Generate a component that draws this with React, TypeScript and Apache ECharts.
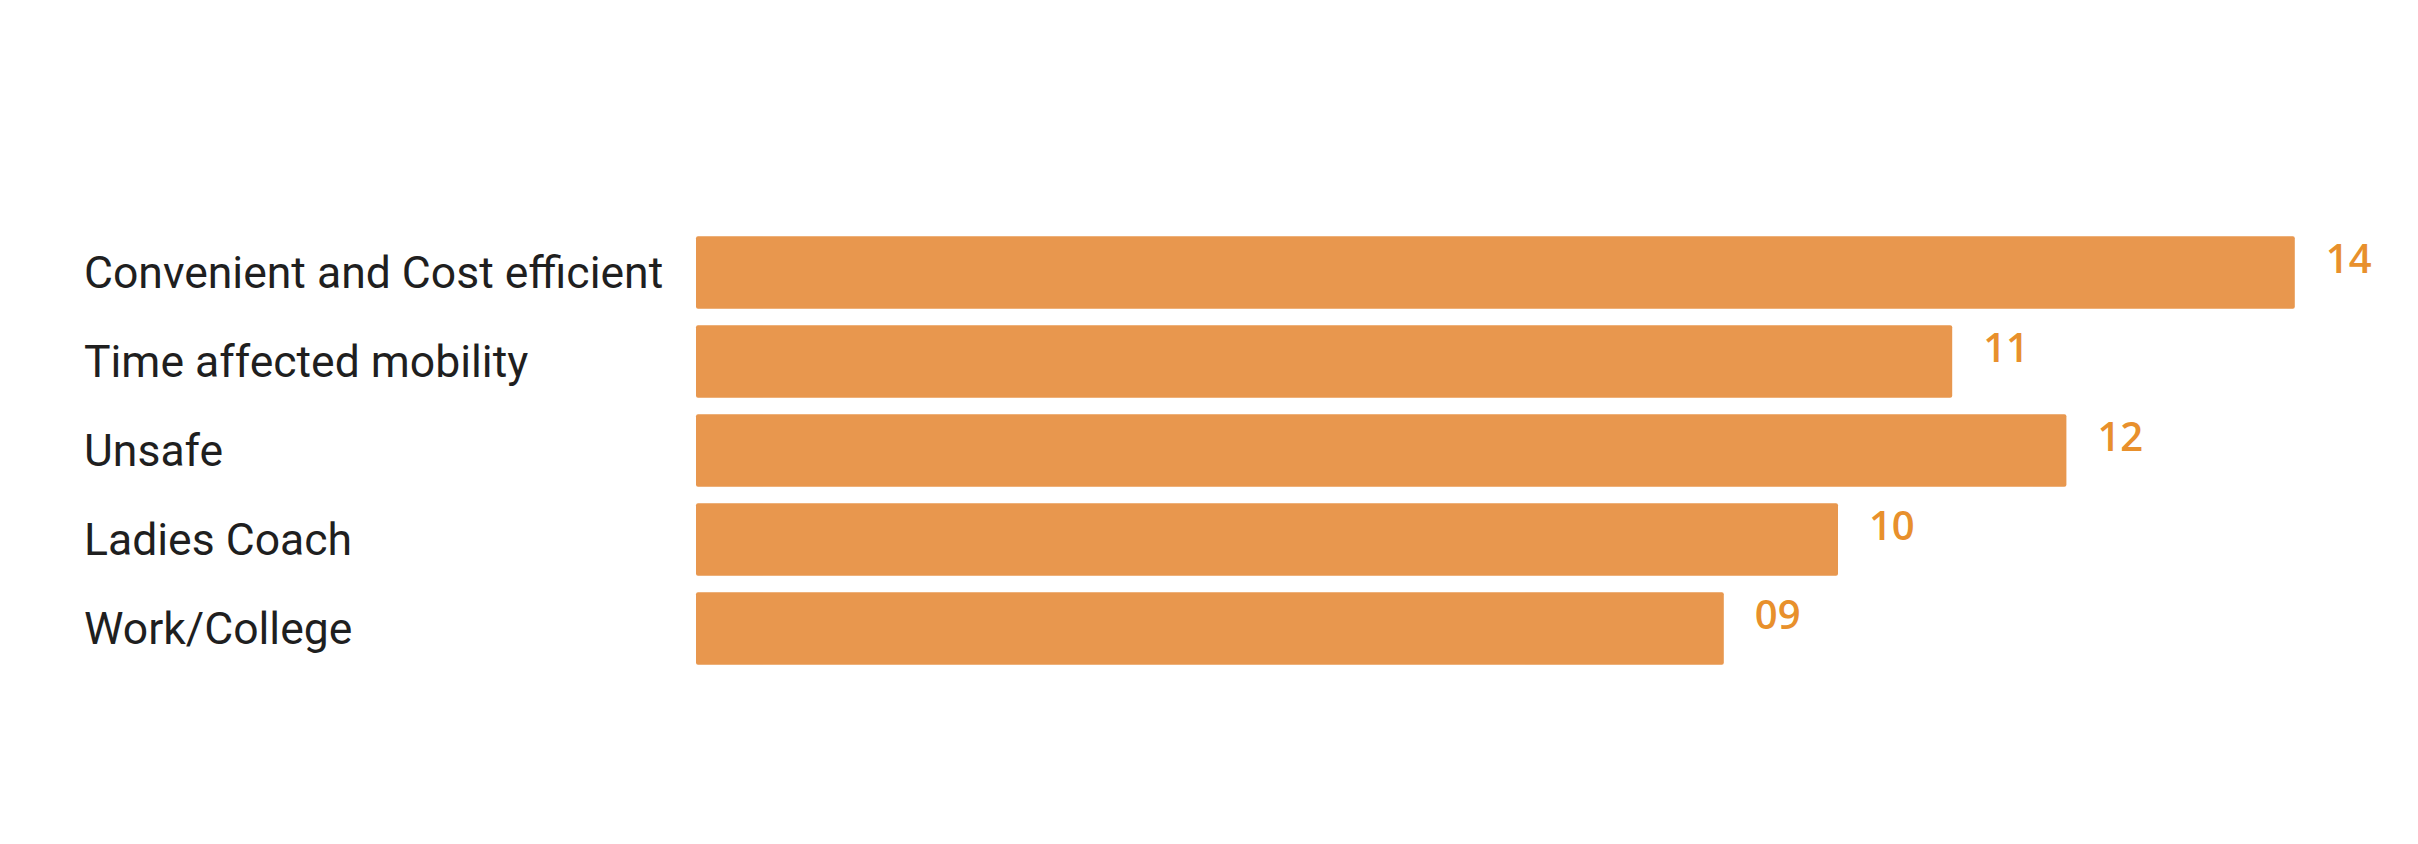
import * as echarts from "echarts";
import { useEffect, useRef } from "react";

const CATEGORIES = [
  "Convenient and Cost efficient",
  "Time affected mobility",
  "Unsafe",
  "Ladies Coach",
  "Work/College",
];
const VALUES = [14, 11, 12, 10, 9];
const VALUE_LABELS = ["14", "11", "12", "10", "09"];

const BAR_COLOR = "#e8974e";
const VALUE_COLOR = "#e8902c";
const LABEL_COLOR = "#1f1f1f";

export default function App() {
  const elRef = useRef<HTMLDivElement | null>(null);

  useEffect(() => {
    const el = elRef.current;
    if (!el) return undefined;
    const chart = echarts.init(el, undefined, { renderer: "svg" });
    chart.setOption({
      animation: false,
      backgroundColor: "#ffffff",
      grid: { left: 696, right: 9, top: 228, height: 445, containLabel: false },
      xAxis: {
        type: "value",
        min: 0,
        max: 15,
        show: false,
      },
      yAxis: {
        type: "category",
        inverse: true,
        data: CATEGORIES,
        axisLine: { show: false },
        axisTick: { show: false },
        splitLine: { show: false },
        axisLabel: {
          align: "left",
          margin: 612,
          color: LABEL_COLOR,
          fontSize: 44.5,
          fontFamily: "Roboto",
        },
      },
      series: [
        {
          type: "bar",
          data: VALUES,
          barCategoryGap: "18.5%",
          itemStyle: { color: BAR_COLOR, borderRadius: 2 },
          label: {
            show: true,
            position: "right",
            distance: 31,
            offset: [0, -15],
            color: VALUE_COLOR,
            fontSize: 40,
            fontWeight: 600,
            fontFamily: "'Open Sans', sans-serif",
            formatter: (p: { dataIndex: number }) => VALUE_LABELS[p.dataIndex],
          },
        },
      ],
    });
    return () => chart.dispose();
  }, []);

  return (
    <div
      ref={elRef}
      style={{ position: "fixed", left: 0, top: 0, width: 2418, height: 844 }}
    />
  );
}
